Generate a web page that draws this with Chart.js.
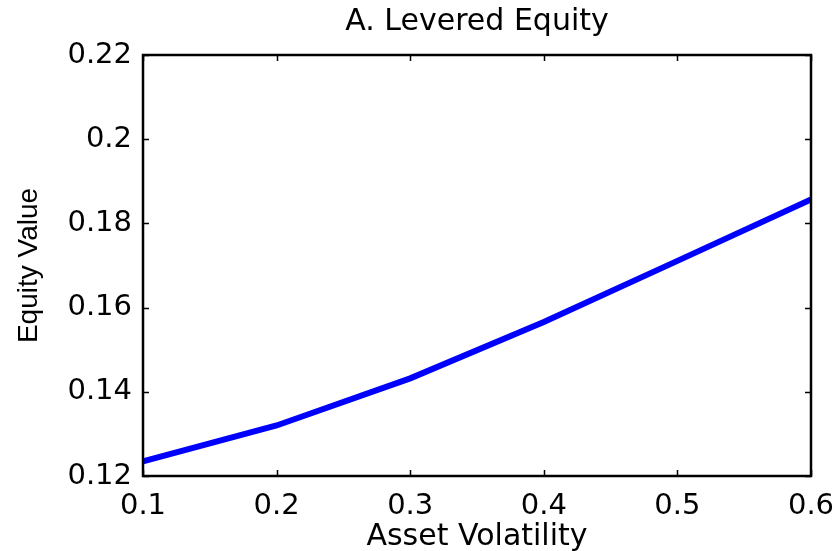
<!DOCTYPE html>
<html>
<head>
<meta charset="utf-8">
<script src="https://cdn.jsdelivr.net/npm/chart.js@4.4.1/dist/chart.umd.min.js"></script>
<style>
  html, body { margin: 0; padding: 0; background: #ffffff; }
  #wrap { width: 837px; height: 551px; }
</style>
</head>
<body>
<div id="wrap"><canvas id="c" width="837" height="551"></canvas></div>
<script>
// ---- data ----
const volatility = [0.1, 0.2, 0.3, 0.4, 0.5, 0.6];
const equityValue = [0.1235, 0.1320, 0.1432, 0.1566, 0.1711, 0.1857];
const xTickValues = [0.1, 0.2, 0.3, 0.4, 0.5, 0.6];
const yTickValues = [0.12, 0.14, 0.16, 0.18, 0.2, 0.22];
const chartTitle = 'A. Levered Equity';
const xTitle = 'Asset Volatility';
const yTitle = 'Equity Value';

const fmt = v => String(Number(v.toFixed(2)));

// MATLAB-style box with inward ticks on all four sides
const boxPlugin = {
  id: 'box',
  afterDatasetsDraw(chart) {
    const { ctx, chartArea: a, scales } = chart;
    const L = 6;
    ctx.save();
    ctx.strokeStyle = '#000';
    ctx.lineWidth = 1.5;
    ctx.beginPath();
    scales.x.ticks.forEach(t => {
      const px = Math.round(scales.x.getPixelForValue(t.value)) + 0.5;
      ctx.moveTo(px, a.bottom); ctx.lineTo(px, a.bottom - L);
      ctx.moveTo(px, a.top); ctx.lineTo(px, a.top + L);
    });
    scales.y.ticks.forEach(t => {
      const py = Math.round(scales.y.getPixelForValue(t.value)) + 0.5;
      ctx.moveTo(a.left, py); ctx.lineTo(a.left + L, py);
      ctx.moveTo(a.right, py); ctx.lineTo(a.right - L, py);
    });
    ctx.stroke();
    ctx.lineWidth = 2.5;
    ctx.strokeRect(a.left, a.top, a.right - a.left, a.bottom - a.top);
    ctx.restore();
  }
};

new Chart(document.getElementById('c'), {
  type: 'line',
  data: {
    labels: volatility,
    datasets: [{
      data: volatility.map((x, i) => ({ x: x, y: equityValue[i] })),
      borderColor: '#0000ff',
      borderWidth: 6,
      pointRadius: 0,
      tension: 0,
      fill: false
    }]
  },
  options: {
    responsive: false,
    animation: false,
    devicePixelRatio: 1,
    layout: { padding: { left: 0, right: 0, top: 0, bottom: 0 } },
    plugins: {
      legend: { display: false },
      tooltip: { enabled: false },
      title: {
        display: true,
        fullSize: false,
        text: chartTitle,
        color: '#000',
        font: { family: 'DejaVu Sans', size: 30, weight: 'normal', lineHeight: 1.2 },
        padding: { top: 4.5, bottom: 14.5 }
      }
    },
    scales: {
      x: {
        type: 'linear',
        min: 0.1, max: 0.6,
        afterBuildTicks: s => { s.ticks = xTickValues.map(v => ({ value: v })); },
        afterFit: s => { s.height = 75; s.paddingLeft = 0; s.paddingRight = 26; },
        grid: { display: false, drawTicks: false },
        border: { display: false },
        ticks: {
          color: '#000',
          padding: 13,
          font: { family: 'DejaVu Sans', size: 29 },
          maxRotation: 0,
          callback: v => fmt(v)
        },
        title: {
          display: true,
          text: xTitle,
          color: '#000',
          font: { family: 'DejaVu Sans', size: 30, lineHeight: 0.8 },
          padding: { top: 0, bottom: 2 }
        }
      },
      y: {
        type: 'linear',
        min: 0.12, max: 0.22,
        afterBuildTicks: s => { s.ticks = yTickValues.map(v => ({ value: v })); },
        afterFit: s => { s.width = 143; },
        grid: { display: false, drawTicks: false },
        border: { display: false },
        ticks: {
          color: '#000',
          padding: 11,
          font: { family: 'DejaVu Sans', size: 29 },
          callback: v => fmt(v)
        },
        title: {
          display: true,
          text: yTitle,
          color: '#000',
          font: { family: 'Liberation Sans', size: 28 },
          padding: { top: 12, bottom: 0 }
        }
      }
    }
  },
  plugins: [boxPlugin]
});
</script>
</body>
</html>
